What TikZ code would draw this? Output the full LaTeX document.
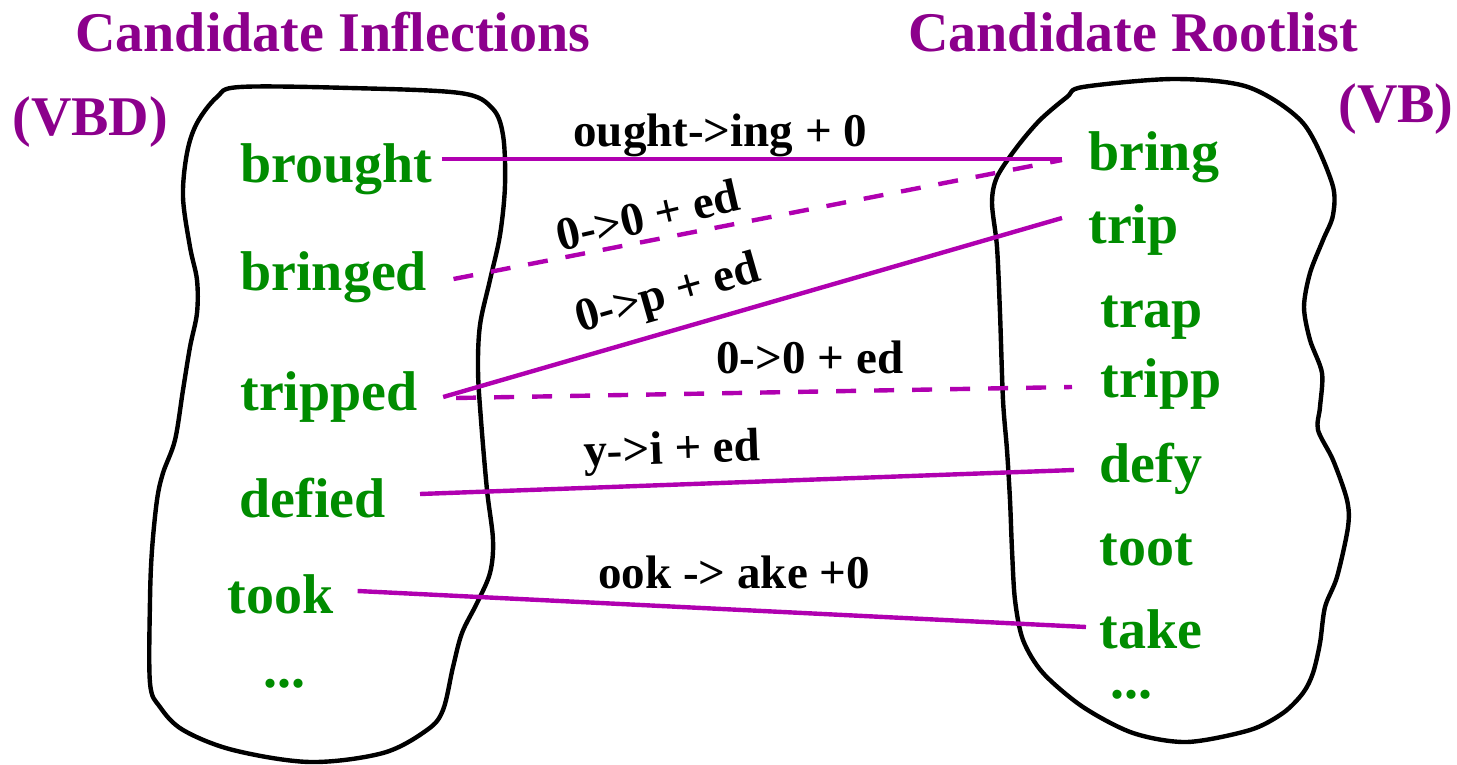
\documentclass[tikz,border=0pt]{standalone}
\usepackage{fontspec}
\setmainfont{Liberation Serif}
\definecolor{ttlc}{RGB}{140,0,140}
\definecolor{lnkc}{RGB}{176,0,176}
\definecolor{wrdc}{RGB}{0,140,0}
\begin{document}
\begin{tikzpicture}[x=0.5pt,y=-0.5pt,
  ttlnode/.style={anchor=base west, inner sep=0pt, text=ttlc, font=\bfseries\fontsize{28}{30}\selectfont},
  wordnode/.style={anchor=base west, inner sep=0pt, text=wrdc, font=\bfseries\fontsize{28}{30}\selectfont},
  lblnode/.style={anchor=base west, inner sep=0pt, text=black, font=\bfseries\fontsize{23.5}{25}\selectfont},
  lnkline/.style={draw=lnkc, line width=2.2pt},
  dlnkline/.style={lnkline, dash pattern=on 10pt off 9pt},
  blobline/.style={draw=black, line width=2.2pt}]
\useasboundingbox (0,0) rectangle (1457,765);

% titles
\node[ttlnode] (t1) at (75,52) {Candidate Inflections};
\node[ttlnode] (t2) at (908,52) {Candidate Rootlist};
\node[ttlnode] (t3) at (12,135) {(VBD)};
\node[ttlnode] (t4) at (1338,123) {(VB)};

% blobs
\draw[blobline] plot[smooth cycle, tension=0.55] coordinates {
  (240,87) (350,88) (460,93) (492,108) (503,135) (505,185) (500,235) (490,280)
  (480,325) (478,370) (481,420) (487,490) (493,540) (490,573) (477,603) (462,633)
  (453,667) (443,710) (427,730) (383,753) (310,762) (233,750) (183,730) (160,707)
  (150,683) (150,600) (152,550) (157,500) (163,473) (175,440) (183,390) (190,347)
  (197,313) (197,280) (190,247) (183,197) (187,153) (197,123) (217,97)};
\draw[blobline] plot[smooth cycle, tension=0.5] coordinates {
  (1083,87) (1174,79) (1248,87) (1303,123) (1332,183) (1333,215) (1323,240)
  (1310,273) (1304,307) (1310,340) (1322,373) (1320,407) (1318,430) (1333,460)
  (1347,500) (1348,527) (1337,577) (1325,607) (1320,643) (1313,673) (1303,693)
  (1283,713) (1250,730) (1187,742) (1133,733) (1083,707) (1043,673) (1023,640)
  (1015,600) (1012,550) (1010,500) (1007,450) (1003,400) (1000,313) (997,247)
  (992,203) (997,177) (1017,147) (1040,120) (1067,97)};

% left words
\node[wordnode] (brought) at (240,183) {brought};
\node[wordnode] (bringed) at (240,290) {bringed};
\node[wordnode] (tripped) at (240,410) {tripped};
\node[wordnode] (defied) at (239,517) {defied};
\node[wordnode] (took) at (227,613) {took};
\node[wordnode] (ldots) at (263,687) {...};

% right words
\node[wordnode] (bring) at (1088,170) {bring};
\node[wordnode] (trip) at (1088,243) {trip};
\node[wordnode] (trap) at (1100,327) {trap};
\node[wordnode] (tripp) at (1100,397) {tripp};
\node[wordnode] (defy) at (1099,482) {defy};
\node[wordnode] (toot) at (1099,565) {toot};
\node[wordnode] (take) at (1099,648) {take};
\node[wordnode] (rdots) at (1110,698) {...};

% connectors
\draw[lnkline] ([shift={(9,-24)}]brought.base east) -- ([shift={(-26,-11)}]bring.base west);
\draw[dlnkline] ([shift={(26,-11)}]bringed.base east) -- ([shift={(-26,-10)}]bring.base west);
\draw[lnkline] ([shift={(25,-13)}]tripped.base east) -- ([shift={(-26,-25)}]trip.base west);
\draw[dlnkline] ([shift={(38,-12)}]tripped.base east) -- ([shift={(-28,-10)}]tripp.base west);
\draw[lnkline] ([shift={(34,-23)}]defied.base east) -- ([shift={(-25,-12)}]defy.base west);
\draw[lnkline] ([shift={(24,-22)}]took.base east) -- ([shift={(-13,-21)}]take.base west);

% connector labels
\node[lblnode] (l1) at (573,147) {ought->ing + 0};
\node[lblnode, rotate=13] (l2) at (560,252) {0->0 + ed};
\node[lblnode, rotate=16] (l3) at (580,333) {0->p + ed};
\node[lblnode] (l4) at (716,373) {0->0 + ed};
\node[lblnode, rotate=2] (l5) at (584,467) {y->i + ed};
\node[lblnode] (l6) at (598,588) {ook -> ake +0};
\end{tikzpicture}
\end{document}
